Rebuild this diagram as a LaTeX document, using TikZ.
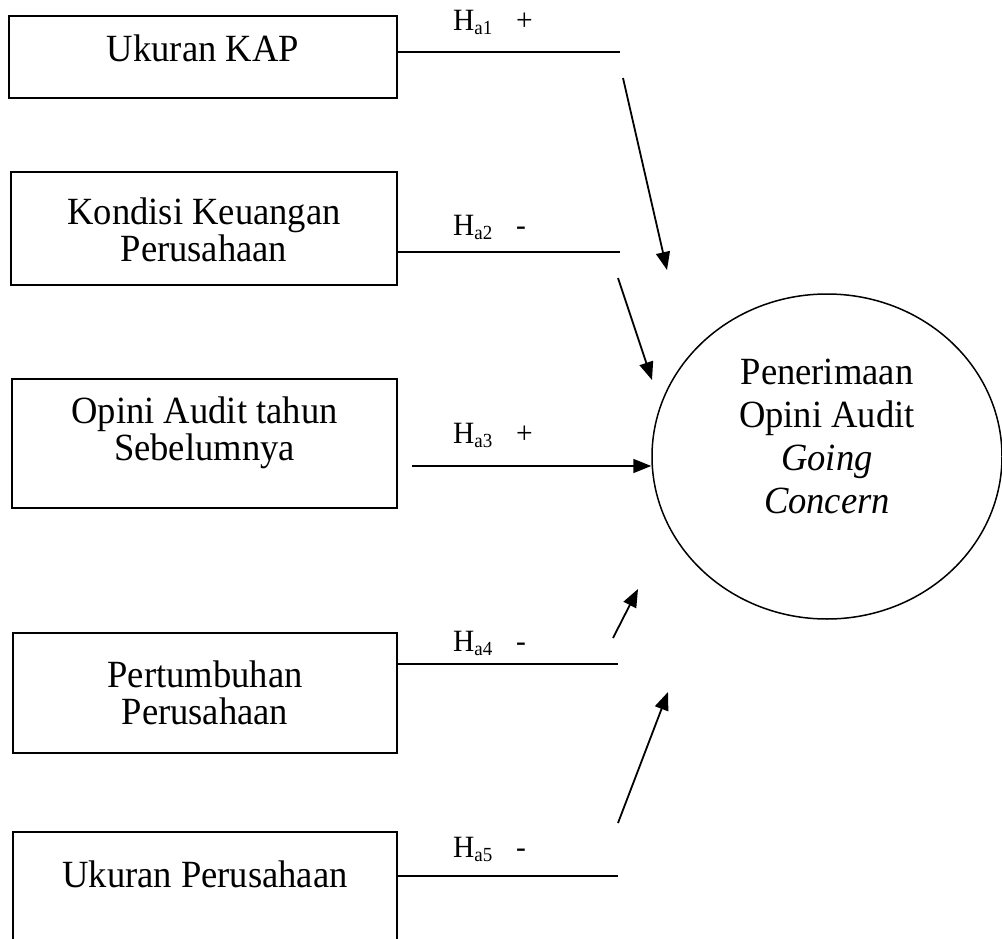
\documentclass[tikz,border=0pt]{standalone}
\usepackage{fontspec}
\setmainfont{Liberation Serif}[FakeStretch=0.95]
\usetikzlibrary{arrows.meta,shapes.geometric}
\newcommand\hsub[1]{\raisebox{-4pt}{\fontsize{20}{20}\selectfont #1}}
\begin{document}
\begin{tikzpicture}[x=1pt,y=-1pt,
  boxnode/.style={draw, line width=1.6pt, rectangle, inner sep=0pt, align=flush center,
    text width=380pt, font=\fontsize{38.5}{37}\selectfont},
  goalnode/.style={draw, ellipse, line width=1.5pt, inner sep=0pt, align=flush center,
    text width=220pt, minimum width=350pt, minimum height=325pt,
    font=\fontsize{38.5}{43}\selectfont},
  hyp/.style={anchor=base west, inner sep=0pt, font=\fontsize{31}{31}\selectfont},
  conn/.style={line width=1.8pt},
  arr/.style={line width=1.8pt, -{Triangle[length=18pt,width=14pt]}}
]
\useasboundingbox (0,0) rectangle (1002,939);

% boxes
\node[boxnode, minimum width=388pt, text height=46pt, text depth=36pt] (b1) at (203,57) {Ukuran KAP};
\node[boxnode, minimum width=386pt, text height=52pt, text depth=61pt] (b2) at (204,228.5) {Kondisi Keuangan\\Perusahaan};
\node[boxnode, minimum width=385pt, text height=44pt, text depth=85pt] (b3) at (204.5,443.5) {Opini Audit tahun\\Sebelumnya};
\node[boxnode, minimum width=384pt, text height=54pt, text depth=66pt] (b4) at (205,693) {Pertumbuhan\\Perusahaan};
\node[boxnode, minimum width=384pt, text height=55pt, text depth=54pt] (b5) at (205,886.5) {Ukuran Perusahaan};

% dependent variable
\node[goalnode, text height=0pt, text depth=145pt] (goal) at (827,456.5)
  {Penerimaan\\Opini Audit\\\textit{Going}\\\textit{Concern}};

% line ends and arrow ends
\coordinate (e1) at (620,52);
\coordinate (e2) at (620,252);
\coordinate (e4) at (618,664);
\coordinate (e5) at (618,876);
\coordinate (s1) at (623,78);   \coordinate (t1) at (667,270);
\coordinate (s2) at (618,278);  \coordinate (t2) at (652,380);
\coordinate (s3) at (412,466);
\coordinate (s4) at (613,638);  \coordinate (t4) at (638,589);
\coordinate (s5) at (618,823);  \coordinate (t5) at (668,692);

% horizontal lines
\draw[conn] (b1.east |- e1) -- (e1);
\draw[conn] (b2.east |- e2) -- (e2);
\draw[conn] (b4.east |- e4) -- (e4);
\draw[conn] (b5.east |- e5) -- (e5);

% arrows
\draw[arr] (s1) -- (t1);
\draw[arr] (s2) -- (t2);
\draw[arr] (s3) -- (s3 -| goal.west);
\draw[arr] (s4) -- (t4);
\draw[arr] (s5) -- (t5);

% hypothesis labels
\node[hyp] (h1) at (453,31)  {\makebox[63pt][l]{H\hsub{a1}}+};
\node[hyp] (h2) at (453,236) {\makebox[63pt][l]{H\hsub{a2}}-};
\node[hyp] (h3) at (453,443) {\makebox[63pt][l]{H\hsub{a3}}+};
\node[hyp] (h4) at (453,651) {\makebox[63pt][l]{H\hsub{a4}}-};
\node[hyp] (h5) at (453,857) {\makebox[63pt][l]{H\hsub{a5}}-};
\end{tikzpicture}
\end{document}
